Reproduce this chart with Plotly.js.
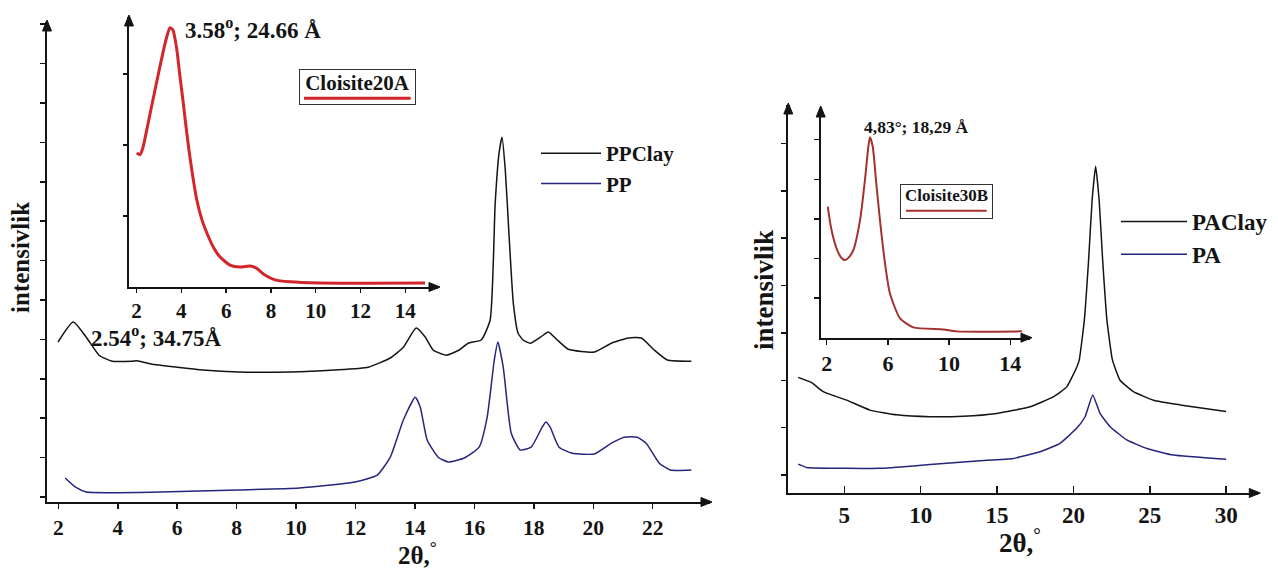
<!DOCTYPE html>
<html>
<head>
<meta charset="utf-8">
<script src="https://cdn.plot.ly/plotly-3.0.1.min.js"></script>
<style>html,body{margin:0;padding:0;background:#fff;}#chart{width:1278px;height:572px;}</style>
</head>
<body>
<div id="chart"></div>
<script>
// ---- Left panel: PP / PPClay (2θ, intensity a.u.) ----
const ppClayTheta = [1.99, 2.50, 2.94, 3.37, 3.81, 4.48, 4.65, 5.12, 6.00, 6.87, 8.05, 9.80, 11.28, 12.43, 13.17, 13.61, 14.04, 14.35, 14.61, 15.05, 15.49, 15.79, 16.23, 16.53, 16.70, 16.83, 16.93, 17.04, 17.17, 17.31, 17.47, 17.64, 17.88, 18.22, 18.49, 18.79, 19.16, 20.04, 20.61, 21.18, 21.62, 22.05, 22.49, 23.30];
const ppClay      = [400, 450, 412, 367, 352, 352, 353, 345, 337, 330, 325, 325, 330, 337, 360, 387, 435, 412, 380, 367, 380, 397, 405, 455, 747, 872, 912, 830, 662, 497, 422, 405, 397, 412, 425, 405, 382, 375, 397, 410, 410, 380, 355, 352];
const ppTheta = [2.23, 2.58, 2.94, 5.43, 8.05, 10.11, 11.99, 12.73, 13.17, 13.61, 14.01, 14.18, 14.41, 14.78, 15.12, 15.66, 16.16, 16.43, 16.67, 16.79, 16.97, 17.24, 17.54, 17.91, 18.28, 18.41, 18.55, 18.85, 19.29, 20.04, 20.61, 21.04, 21.48, 21.78, 22.22, 22.59, 23.30];
const pp      = [60, 37, 25, 25, 30, 35, 50, 67, 112, 205, 262, 237, 155, 112, 100, 110, 137, 212, 355, 400, 337, 172, 130, 137, 187, 200, 187, 137, 122, 120, 147, 162, 162, 147, 97, 80, 80];
// inset: Cloisite20A
const c20Theta = [2.01, 2.15, 2.28, 2.50, 2.73, 3.04, 3.31, 3.49, 3.62, 3.80, 3.93, 4.07, 4.20, 4.34, 4.52, 4.69, 4.92, 5.14, 5.45, 5.72, 6.17, 6.62, 7.06, 7.33, 7.73, 8.18, 8.85, 10.19, 14.88];
const c20      = [47.2, 46.5, 48.9, 57.0, 65.8, 77.4, 86.9, 91.2, 90.5, 83.4, 74.6, 65.8, 57.0, 48.2, 38.4, 30.6, 23.6, 19.0, 13.7, 10.6, 7.7, 7.0, 7.4, 6.7, 4.2, 2.5, 1.8, 1.4, 1.4];

// ---- Right panel: PA / PAClay ----
const paClayTheta = [1.98, 2.86, 3.62, 5.15, 6.68, 8.43, 10.61, 12.79, 14.98, 17.16, 18.68, 19.56, 20.22, 20.38, 20.71, 20.99, 21.22, 21.45, 21.68, 21.91, 22.19, 22.55, 23.05, 23.92, 25.23, 26.98, 29.99];
const paClay      = [244, 233, 214, 196, 175, 165, 161, 162, 168, 182, 203, 224, 266, 281, 365, 492, 618, 690, 618, 492, 365, 281, 238, 214, 196, 186, 172];
const paTheta = [1.98, 2.53, 5.15, 7.33, 9.52, 11.70, 13.88, 16.06, 17.81, 19.12, 20.22, 20.76, 21.26, 21.74, 22.40, 23.49, 24.80, 26.54, 29.99];
const pa      = [61, 54, 52, 52, 57, 63, 68, 73, 87, 105, 137, 161, 207, 168, 140, 112, 94, 80, 71];
// inset: Cloisite30B
const c30Theta = [2.07, 2.25, 2.45, 2.70, 2.95, 3.20, 3.45, 3.74, 4.18, 4.50, 4.72, 4.83, 5.01, 5.22, 5.48, 5.81, 6.13, 6.79, 7.66, 9.62, 10.50, 14.76];
const c30      = [33.1, 28.5, 25.0, 22.0, 20.2, 19.6, 20.3, 22.1, 29.7, 39.8, 48.2, 50.6, 48.2, 39.8, 29.7, 18.8, 11.2, 4.9, 2.6, 2.1, 1.6, 1.6];

const leftMainTicks = [2, 4, 6, 8, 10, 12, 14, 16, 18, 20, 22];
const insetTicks = [2, 4, 6, 8, 10, 12, 14];
const rightMainTicks = [5, 10, 15, 20, 25, 30];
const rightInsetLabels = [2, 6, 10, 14];

const FONT = 'Liberation Serif, Times New Roman, serif';
const INK = '#141414';
const BLUE = '#25257e';
const RED = '#d2262a';
const DRED = '#a3322f';

const traces = [
  {x: ppClayTheta, y: ppClay, xaxis: 'x', yaxis: 'y', type: 'scatter', mode: 'lines', name: 'PPClay',
   line: {color: INK, width: 1.5, shape: 'spline', smoothing: 0.5}, legend: 'legend'},
  {x: ppTheta, y: pp, xaxis: 'x', yaxis: 'y', type: 'scatter', mode: 'lines', name: 'PP',
   line: {color: BLUE, width: 1.5, shape: 'spline', smoothing: 0.5}, legend: 'legend'},
  {x: c20Theta, y: c20, xaxis: 'x2', yaxis: 'y2', type: 'scatter', mode: 'lines', name: 'Cloisite20A',
   line: {color: RED, width: 3, shape: 'spline', smoothing: 0.6}, showlegend: false},
  {x: paClayTheta, y: paClay, xaxis: 'x3', yaxis: 'y3', type: 'scatter', mode: 'lines', name: 'PAClay',
   line: {color: INK, width: 1.5, shape: 'spline', smoothing: 0.4}, legend: 'legend2'},
  {x: paTheta, y: pa, xaxis: 'x3', yaxis: 'y3', type: 'scatter', mode: 'lines', name: 'PA',
   line: {color: BLUE, width: 1.5, shape: 'spline', smoothing: 0.4}, legend: 'legend2'},
  {x: c30Theta, y: c30, xaxis: 'x4', yaxis: 'y4', type: 'scatter', mode: 'lines', name: 'Cloisite30B',
   line: {color: DRED, width: 2, shape: 'spline', smoothing: 0.6}, showlegend: false}
];

function ax(opts) {
  return Object.assign({
    showline: true, linecolor: INK, linewidth: 2, showgrid: false, zeroline: false,
    ticks: 'outside', ticklen: 5, tickwidth: 1.5, tickcolor: INK,
    tickfont: {family: FONT, size: 21, color: INK, weight: 'bold'}, fixedrange: true
  }, opts);
}
function cross(base, over, anchor, side, ticks, vals) {
  return {overlaying: over, anchor: anchor, side: side, range: base.range, tickmode: base.tickmode,
    tick0: base.tick0, dtick: base.dtick, tickvals: vals || base.tickvals, ticks: ticks || 'inside', ticklen: base.ticklen,
    tickwidth: base.tickwidth, tickcolor: INK, showticklabels: false, showline: false,
    showgrid: false, zeroline: false, fixedrange: true};
}

const xaxis  = ax({domain: [0.0368, 0.5556], anchor: 'y', range: [1.62, 23.93], tickmode: 'array', tickvals: leftMainTicks, tickfont: {family: FONT, size: 21.5, color: INK, weight: 'bold'}});
const yaxis  = ax({domain: [0.1224, 0.9615], anchor: 'x', range: [0, 1200], tickmode: 'linear', tick0: 12.5, dtick: 98.5, showticklabels: false});
const xaxis2 = ax({domain: [0.1009, 0.3427], anchor: 'y2', range: [1.66, 15.46], tickmode: 'array', tickvals: insetTicks, ticklen: 4});
const yaxis2 = ax({domain: [0.4983, 0.9703], anchor: 'x2', range: [0, 95], tickmode: 'array', tickvals: [25, 50, 75], showticklabels: false, ticklen: 4});
const xaxis3 = ax({domain: [0.6168, 0.9846], anchor: 'y3', range: [1.33, 32.1], tickmode: 'array', tickvals: rightMainTicks, ticks: 'inside', ticklen: 7, tickfont: {family: FONT, size: 23, color: INK, weight: 'bold'}});
const yaxis3 = ax({domain: [0.1381, 0.8164], anchor: 'x3', range: [0, 819], tickmode: 'linear', tick0: 38, dtick: 100, showticklabels: false});
const xaxis4 = ax({domain: [0.6422, 0.8060], anchor: 'y4', range: [1.61, 15.29], tickmode: 'array', tickvals: rightInsetLabels, tickfont: {family: FONT, size: 22, color: INK, weight: 'bold'}});
const yaxis4 = ax({domain: [0.4096, 0.8112], anchor: 'x4', range: [0, 58], tickmode: 'array', tickvals: [10, 20, 30, 40, 50], showticklabels: false});

function P(px, py) { return {x: px / 1278, y: 1 - py / 572}; }
// arrow heads at the ends of the axis lines (decoration)
function head(px, py, dir) {
  let pts;
  if (dir === 'up') pts = [[px, py - 2], [px - 4.5, py + 9], [px + 4.5, py + 9]];
  else pts = [[px + 2, py], [px - 9, py - 4.5], [px - 9, py + 4.5]];
  const d = pts.map((p, i) => (i ? 'L' : 'M') + (p[0] / 1278).toFixed(5) + ',' + (1 - p[1] / 572).toFixed(5)).join(' ') + ' Z';
  return {type: 'path', xref: 'paper', yref: 'paper', path: d, fillcolor: INK, line: {color: INK, width: 1}};
}
function label(px, py, text, size, xanchor, extra) {
  const p = P(px, py);
  return Object.assign({xref: 'paper', yref: 'paper', x: p.x, y: p.y, text: text, showarrow: false,
    xanchor: xanchor || 'center', yanchor: 'middle',
    font: {family: FONT, size: size, color: INK, weight: 'bold'}}, extra || {});
}

const annotations = [
  label(183, 28, '3.58<sup>o</sup>; 24.66 Å', 23, 'left'),
  label(89, 336, '2.54<sup>o</sup>; 34.75Å', 23, 'left'),
  label(916, 127, '4,83°; 18,29 Å', 17.5, 'center'),
  label(357.5, 87, 'Cloisite20A', 21, 'center', {bordercolor: '#333', borderwidth: 1, width: 113, height: 32, borderpad: 1, valign: 'top', bgcolor: 'rgba(255,255,255,0)'}),
  label(946.2, 201.7, 'Cloisite30B', 17, 'center', {bordercolor: '#333', borderwidth: 1, width: 89, height: 31, borderpad: 1, valign: 'top', bgcolor: 'rgba(255,255,255,0)'}),
  label(417, 553, '2θ,<sup>°</sup>', 25, 'center'),
  label(1020, 541, '2θ,<sup>°</sup>', 27, 'center'),
  label(20, 258, 'intensivlik', 25, 'center', {textangle: -90}),
  label(764, 290, 'intensivlik', 27, 'center', {textangle: -90})
];

const shapes = [
  {type: 'line', xref: 'paper', yref: 'paper', x0: 304 / 1278, x1: 410.7 / 1278, y0: 1 - 98.3 / 572, y1: 1 - 98.3 / 572, line: {color: RED, width: 3}},
  {type: 'line', xref: 'paper', yref: 'paper', x0: 906 / 1278, x1: 986.7 / 1278, y0: 1 - 210.7 / 572, y1: 1 - 210.7 / 572, line: {color: DRED, width: 2}},
  head(47, 22, 'up'), head(710, 502, 'right'),
  head(129, 17, 'up'), head(438, 287, 'right'),
  head(788.3, 105, 'up'), head(1258.3, 493, 'right'),
  head(820.7, 108, 'up'), head(1030, 337.7, 'right')
];

const layout = {
  width: 1278, height: 572, margin: {l: 0, r: 0, t: 0, b: 0},
  paper_bgcolor: '#ffffff', plot_bgcolor: 'rgba(0,0,0,0)',
  showlegend: true,
  xaxis, yaxis, xaxis2, yaxis2, xaxis3, yaxis3, xaxis4, yaxis4,
  xaxis5: cross(xaxis, 'x', 'y', 'bottom'), yaxis5: cross(yaxis, 'y', 'x', 'left'),
  xaxis6: cross(xaxis2, 'x2', 'y2', 'bottom'), yaxis6: cross(yaxis2, 'y2', 'x2', 'left'),
  yaxis7: cross(yaxis3, 'y3', 'x3', 'left'),
  xaxis8: cross(xaxis4, 'x4', 'y4', 'bottom', 'inside', insetTicks), yaxis8: cross(yaxis4, 'y4', 'x4', 'left'),
  xaxis9: cross(xaxis4, 'x4', 'y4', 'bottom', 'outside', insetTicks),
  legend: {x: 536 / 1278, y: 1 - 133 / 572, xanchor: 'left', yanchor: 'top', bgcolor: 'rgba(0,0,0,0)',
    font: {family: FONT, size: 21, color: INK, weight: 'bold'}, itemwidth: 60, tracegroupgap: 0},
  legend2: {x: 1116 / 1278, y: 1 - 200 / 572, xanchor: 'left', yanchor: 'top', bgcolor: 'rgba(0,0,0,0)',
    font: {family: FONT, size: 23, color: INK, weight: 'bold'}, itemwidth: 66, tracegroupgap: 0},
  annotations, shapes
};

Plotly.newPlot('chart', traces, layout, {staticPlot: true, displayModeBar: false});
</script>
</body>
</html>
